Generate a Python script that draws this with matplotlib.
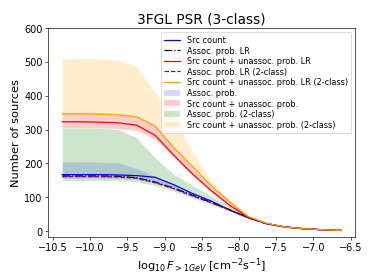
import matplotlib
matplotlib.use("Agg")
import matplotlib.pyplot as plt
import numpy as np

# bin centres in log10 flux
logflux = [-10.375, -10.125, -9.875, -9.625, -9.375, -9.125, -8.875, -8.625,
           -8.375, -8.125, -7.875, -7.625, -7.375, -7.125, -6.875, -6.625]

src_count = [167, 167, 167, 166, 164, 159, 137, 111, 89, 62, 40, 22, 12, 7, 4, 2]
assoc_lr = [163, 163, 163, 162, 158, 145, 127, 106, 85, 63, 40, 22, 12, 7, 4, 2]
src_unassoc_lr = [323, 323, 322, 320, 313, 283, 224, 169, 120, 76, 42, 22, 12, 7, 4, 2]
assoc_lr_2c = [161, 161, 161, 160, 156, 143, 125, 104, 84, 62, 39, 21, 12, 7, 4, 2]
src_unassoc_lr_2c = [347, 347, 346, 344, 338, 310, 246, 191, 134, 87, 43, 23, 12, 7, 4, 2]

assoc_lo = [157, 157, 157, 156, 153, 143, 125, 104, 84, 62, 39, 21, 11, 6, 3, 1]
assoc_hi = [205, 205, 204, 202, 185, 162, 140, 115, 91, 66, 42, 23, 13, 8, 4, 2]
src_unassoc_lo = [306, 306, 305, 303, 298, 272, 218, 164, 116, 73, 40, 21, 11, 6, 3, 1]
src_unassoc_hi = [350, 350, 349, 347, 340, 312, 250, 193, 137, 89, 44, 23, 12, 7, 4, 2]
assoc_2c_lo = [150, 150, 150, 149, 146, 135, 118, 98, 79, 59, 37, 20, 11, 6, 3, 1]
assoc_2c_hi = [305, 305, 304, 300, 276, 216, 168, 135, 103, 75, 45, 23, 13, 8, 4, 2]
src_unassoc_2c_lo = [344, 344, 343, 341, 335, 306, 242, 188, 132, 85, 42, 22, 11, 6, 3, 1]
src_unassoc_2c_hi = [510, 510, 509, 505, 486, 410, 335, 235, 150, 90, 45, 24, 13, 8, 4, 2]

x = np.array(logflux)

fig = plt.figure(figsize=(6.4, 4.8), dpi=58.44)
ax = fig.add_subplot(111)
fig.subplots_adjust(left=0.129, right=0.95, top=0.898, bottom=0.155)

ax.plot(x, src_count, color="blue", lw=1.5, label="Src count")
ax.plot(x, assoc_lr, color="black", ls="-.", lw=1.5, label="Assoc. prob. LR")
ax.plot(x, src_unassoc_lr, color="red", lw=1.5, label="Src count + unassoc. prob. LR")
ax.plot(x, assoc_lr_2c, color="purple", ls="--", lw=1.5, label="Assoc. prob. LR (2-class)")
ax.plot(x, src_unassoc_lr_2c, color="orange", lw=1.5,
        label="Src count + unassoc. prob. LR (2-class)")

ax.fill_between(x, assoc_lo, assoc_hi, color="blue", alpha=0.15, lw=0, label="Assoc. prob.")
ax.fill_between(x, src_unassoc_lo, src_unassoc_hi, color="red", alpha=0.2, lw=0,
                label="Src count + unassoc. prob.")
ax.fill_between(x, assoc_2c_lo, assoc_2c_hi, color="green", alpha=0.2, lw=0,
                label="Assoc. prob. (2-class)")
ax.fill_between(x, src_unassoc_2c_lo, src_unassoc_2c_hi, color="orange", alpha=0.2, lw=0,
                label="Src count + unassoc. prob. (2-class)")

ax.set_ylim(-16, 600)
ax.set_xticks(np.arange(-10.5, -6.4, 0.5))
ax.tick_params(labelsize=12)
ax.set_title("3FGL PSR (3-class)", fontsize=17)
ax.set_xlabel(r"$\log_{10}F_{>1GeV}$ [cm$^{-2}$s$^{-1}$]", fontsize=14)
ax.set_ylabel("Number of sources", fontsize=14)
ax.legend(loc="upper right", fontsize=10, labelspacing=0.2)

fig.savefig("out.png", dpi=58.44)
